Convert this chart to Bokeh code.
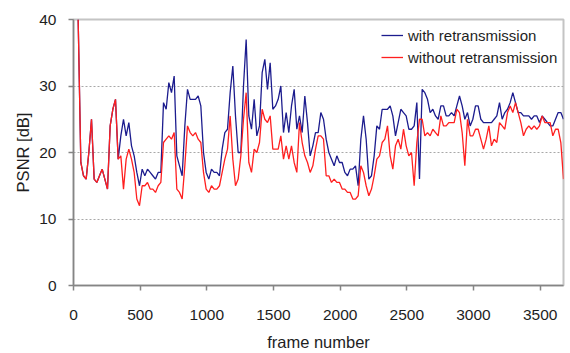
from bokeh.plotting import figure
from bokeh.models import Range1d, FixedTicker, Legend, LegendItem
from bokeh.embed import file_html
from bokeh.resources import INLINE

# Frame numbers sampled every 20 frames from the first decoded frame
frames = list(range(35, 3676, 20))

# PSNR [dB] without retransmission
psnr_without = [
    40, 18.5, 16.5, 16, 20, 25, 16, 15.5, 16.5, 17.5,
    16, 14.5, 24, 26.5, 28, 19, 19.5, 14.5, 19, 20.5,
    19, 17, 13, 12, 15, 15, 15.5, 14.5, 14.5, 14,
    15, 15.5, 21.5, 22, 22.5, 22, 23, 14.5, 14, 13,
    18, 24, 23, 22.5, 23, 22, 21.5, 17, 14.5, 14,
    15, 14.5, 14.5, 15, 17, 19, 20.5, 25.5, 19, 15,
    16, 19.5, 25, 29, 18.5, 17, 20.5, 20, 21.5, 26.5,
    25, 24.5, 25.5, 20.5, 20.5, 20.5, 22.5, 19, 21, 19,
    21, 18.5, 17, 24.5, 21.5, 19.5, 18.5, 17, 18, 20.5,
    22.5, 22.5, 22, 16.5, 16.5, 15.5, 16, 15.5, 15.5, 14.5,
    14.5, 14, 14, 13, 13, 13.5, 18, 17, 15, 13.5,
    14.5, 16.5, 19, 19.5, 21.5, 22, 24, 19.5, 17.5, 21,
    22, 20.5, 23.5, 21, 19.5, 20, 15, 21.5, 25, 25,
    22.5, 23, 22.5, 23.5, 23, 22.5, 25.5, 24, 24, 24.5,
    24.5, 24.5, 26.5, 26, 23, 18, 25, 22.5, 22.5, 23.5,
    23.5, 22, 20.5, 22, 24, 21, 22, 21.5, 24.5, 24,
    23.5, 26, 27, 26, 27.5, 26, 24.5, 22.5, 23.5, 24,
    23.5, 24, 23.5, 24, 25.5, 24.5, 24.5, 24.5, 22.5, 23.5,
    23.5, 21.5, 16,
]

# PSNR [dB] with retransmission
psnr_with = [
    40, 18.5, 16.5, 16, 20, 25, 16, 15.5, 16.5, 17.5,
    16, 14.5, 24, 26.5, 28, 19, 22.5, 25, 22.5, 24.5,
    21, 19.5, 17, 15, 17.5, 16.5, 17.5, 17, 16.5, 16,
    17, 17, 27.5, 26.5, 30.5, 29, 31.5, 19.5, 18, 16.5,
    24, 29.5, 28, 28, 28, 28.5, 27, 20, 17, 16,
    17.5, 17, 17, 16.5, 20.5, 23, 23.5, 29, 33, 25.5,
    20, 20, 30, 37, 25.5, 23.5, 28, 22.5, 24, 32,
    34, 29.5, 33.5, 26.5, 27, 28, 30, 23, 26, 23,
    27, 29.5, 23.5, 25.5, 23, 28.5, 24.5, 19.5, 21, 23,
    23, 26, 25, 22, 20, 19, 18, 19.5, 18.5, 18.5,
    17, 16.5, 17.5, 17.5, 18, 15, 22, 25.5, 22, 16,
    16.5, 19.5, 24, 23.5, 26.5, 26.5, 26.5, 27, 25.5, 22.5,
    24.5, 26.5, 26, 25.5, 23.5, 23.5, 24, 27.5, 16, 29.5,
    29, 28, 26, 26.5, 25.5, 25, 27, 27, 25.5, 25.5,
    26, 25.5, 27, 28.5, 27, 25, 26, 24, 25, 27,
    27, 25, 24.5, 24.5, 24.5, 24.5, 25, 25.5, 27.5, 25,
    26, 26.5, 27.5, 29, 27.5, 26, 26, 25.5, 25.5, 25.5,
    25, 25.5, 25.5, 24.5, 25.5, 25, 24.5, 24, 24, 25,
    26, 26, 25,
]

x_ticks = [0, 500, 1000, 1500, 2000, 2500, 3000, 3500]
y_ticks = [0, 10, 20, 30, 40]

FONT = "Liberation Sans"
TEXT = "#1e1e1e"
AXIS = "#858585"

p = figure(
    width=570, height=353,
    x_range=Range1d(0, 3675), y_range=Range1d(0, 40),
    output_backend="svg", toolbar_location=None,
    min_border_left=73, min_border_right=7,
    min_border_top=19, min_border_bottom=68,
    background_fill_color="white", border_fill_color="white",
)
p.outline_line_color = "#c4c4c4"
p.outline_line_width = 2

r_with = p.line(frames, psnr_with, line_color="#1c1c8e", line_width=1.3)
r_without = p.line(frames, psnr_without, line_color="#ff1f1f", line_width=1.3)

# axes
for ax in (p.xaxis[0], p.yaxis[0]):
    ax.axis_line_color = AXIS
    ax.axis_line_width = 1.5
    ax.major_tick_line_color = AXIS
    ax.major_tick_line_width = 1.5
    ax.major_tick_out = 5
    ax.major_tick_in = 0
    ax.minor_tick_line_color = None
    ax.major_label_text_font = FONT
    ax.major_label_text_font_size = "15.5px"
    ax.major_label_text_color = TEXT
    ax.axis_label_text_font = FONT
    ax.axis_label_text_font_size = "16.5px"
    ax.axis_label_text_font_style = "normal"
    ax.axis_label_text_color = TEXT

p.xaxis[0].ticker = FixedTicker(ticks=x_ticks)
p.yaxis[0].ticker = FixedTicker(ticks=y_ticks)
p.xaxis[0].axis_label = "frame number"
p.yaxis[0].axis_label = "PSNR [dB]"
p.xaxis[0].major_label_standoff = 19
p.yaxis[0].major_label_standoff = 12
p.xaxis[0].axis_label_standoff = 10
p.yaxis[0].axis_label_standoff = 4

# grid: dotted horizontal lines only
p.xgrid.grid_line_color = None
p.ygrid.grid_line_color = "#a8a8a8"
p.ygrid.grid_line_dash = "2 2"
p.ygrid.grid_line_width = 1

legend = Legend(
    items=[
        LegendItem(label="with retransmission", renderers=[r_with]),
        LegendItem(label="without retransmission", renderers=[r_without]),
    ],
    location=(308, 217),
    background_fill_alpha=0, border_line_alpha=0,
    padding=0, margin=0, spacing=0,
    glyph_width=22, glyph_height=20, label_height=22,
    label_standoff=5,
    label_text_font=FONT, label_text_font_size="15px",
    label_text_color=TEXT,
)
p.add_layout(legend)

open("out.html", "w").write(file_html(p, INLINE))
